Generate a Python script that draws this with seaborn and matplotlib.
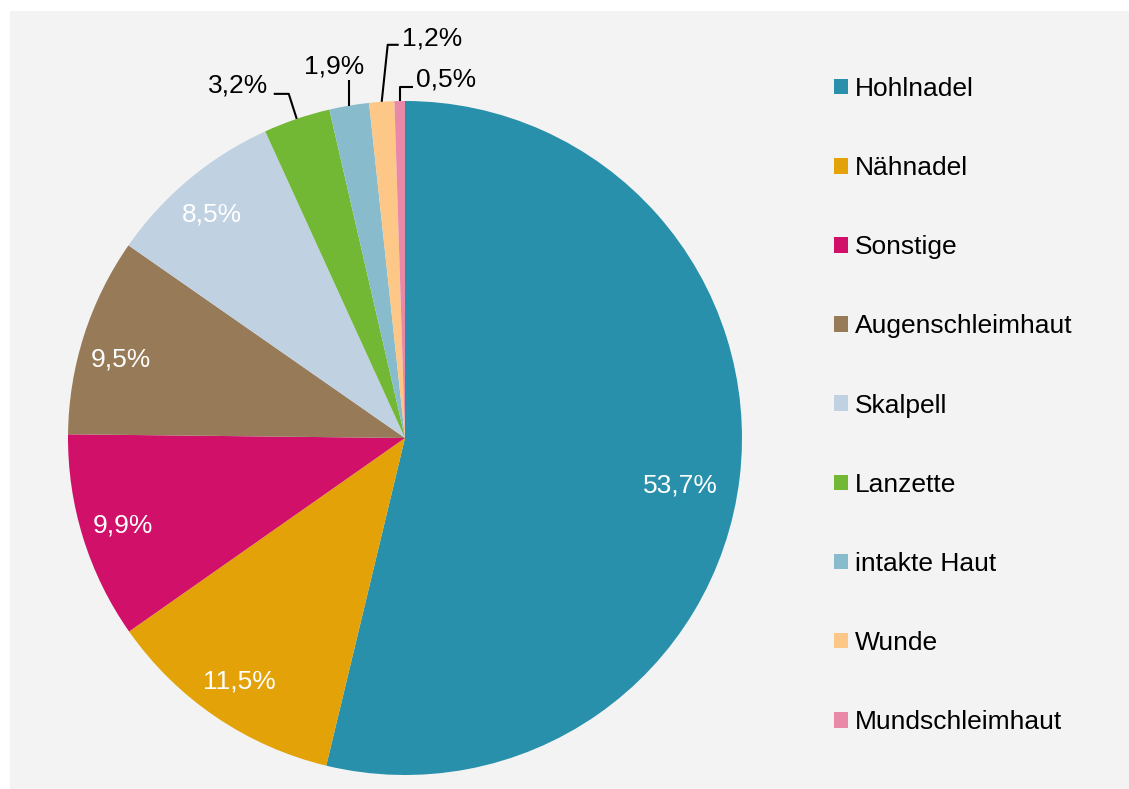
import numpy as np
import matplotlib
matplotlib.use('Agg')
import matplotlib.pyplot as plt
from matplotlib.patches import Rectangle
import seaborn as sns

sns.set_theme(style='white')
plt.rcParams['font.family'] = ['Liberation Sans', 'DejaVu Sans']

# ── DATA ──
categories = ['Hohlnadel', 'Nähnadel', 'Sonstige', 'Augenschleimhaut', 'Skalpell',
              'Lanzette', 'intakte Haut', 'Wunde', 'Mundschleimhaut']
shares = [53.7, 11.5, 9.9, 9.5, 8.5, 3.2, 1.9, 1.2, 0.5]
label_texts = ['53,7%', '11,5%', '9,9%', '9,5%', '8,5%', '3,2%', '1,9%', '1,2%', '0,5%']
hex_colors = ['#2890ab', '#e2a208', '#d1106a', '#977b58', '#c0d1e2',
              '#72b835', '#88bccd', '#fdc887', '#ea88a8']
palette = sns.color_palette(hex_colors)

W, H = 1129, 789
FS = 19
BG = '#f3f3f3'
fig = plt.figure(figsize=(W / 100, H / 100), dpi=100)
fig.patch.set_facecolor(BG)

ax = fig.add_axes([0, 0, 1, 1])
ax.patch.set_alpha(0)
# white margin on the left and top of the grey panel
ax.add_patch(Rectangle((-20, -20), 30, H + 40, facecolor='white',
                       edgecolor='none', zorder=-5))
ax.add_patch(Rectangle((-20, H - 11), W + 40, 40, facecolor='white',
                       edgecolor='none', zorder=-5))

cx, cy, R = 405, H - 438, 337
wedges, _ = ax.pie(shares, colors=palette, startangle=90, counterclock=False,
                   center=(cx, cy), radius=R, frame=True,
                   wedgeprops=dict(linewidth=0))
ax.set_xlim(0, W)
ax.set_ylim(0, H)
ax.set_aspect('equal')
ax.axis('off')

# inner labels (white): distance in radii, angle shift in degrees
inner_pos = [(0.828, -3.0), (0.875, 0.0), (0.875, 0.0), (0.875, 2.3), (0.875, 1.0)]
for i, (d, shift) in enumerate(inner_pos):
    w = wedges[i]
    ang = np.deg2rad((w.theta1 + w.theta2) / 2 + shift)
    ax.text(cx + d * R * np.cos(ang), cy + d * R * np.sin(ang), label_texts[i],
            color='white', fontsize=FS, ha='center', va='center')

# outer labels with leader lines: elbow offset, end offset, text offset, alignment
outer = {
    5: [(-8, 25), (-23, 25), (-29, 33), 'right'],
    6: [(0, 26), (0, 26), (-15, 39), 'center'],
    7: [(6, 57), (17, 57), (20, 63), 'left'],
    8: [(0, 14), (13, 14), (16, 22), 'left'],
}
for i, (elb, end, txt, ha) in outer.items():
    w = wedges[i]
    ang = np.deg2rad((w.theta1 + w.theta2) / 2)
    x0, y0 = cx + R * np.cos(ang), cy + R * np.sin(ang)
    ax.plot([x0, x0 + elb[0], x0 + end[0]], [y0, y0 + elb[1], y0 + end[1]],
            color='black', lw=1.5, solid_capstyle='butt')
    ax.text(x0 + txt[0], y0 + txt[1], label_texts[i], color='black',
            fontsize=FS, ha=ha, va='center')

ax.legend(wedges, categories, loc='upper left',
          bbox_to_anchor=(834 / W, 1 - 77 / H), bbox_transform=fig.transFigure,
          frameon=False, fontsize=FS, handlelength=0.53, handleheight=0.53,
          handletextpad=0.27, labelspacing=2.09, borderpad=0, borderaxespad=0,
          labelcolor='black')

fig.savefig('out.png', dpi=100, facecolor=BG)
